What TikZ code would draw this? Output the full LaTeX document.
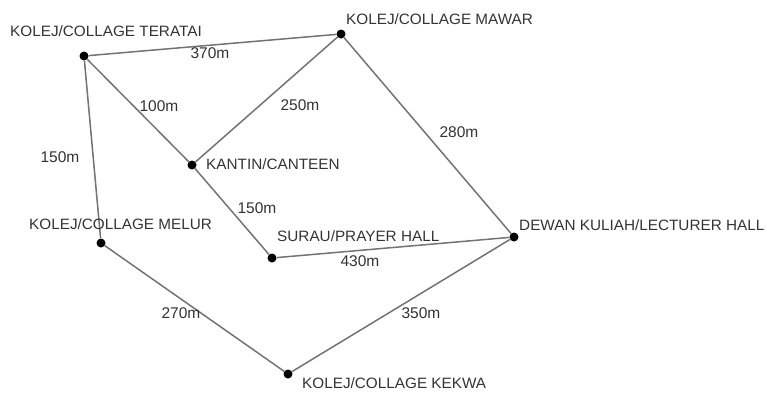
\documentclass[tikz,border=0pt]{standalone}
\usepackage{fontspec}
\setmainfont{Liberation Sans}
\newcommand\plabel[1]{\scalebox{1.02}[1]{#1}}
\begin{document}
\begin{tikzpicture}[x=1pt,y=-1pt,
  dot/.style={circle,fill=black,inner sep=0pt,minimum size=9pt},
  road/.style={draw=black!55,line width=1.5pt},
  place/.style={inner sep=0pt,anchor=west,text=black!80,font=\fontsize{15}{18}\selectfont},
  dist/.style={inner sep=0pt,text=black!80,font=\fontsize{15.5}{18}\selectfont}]
\useasboundingbox (0,0) rectangle (767,392);
% vertices
\node[dot] (teratai) at (84,56) {};
\node[dot] (mawar) at (341,34) {};
\node[dot] (kantin) at (192,165) {};
\node[dot] (melur) at (101,243) {};
\node[dot] (surau) at (272,258) {};
\node[dot] (dewan) at (514,237) {};
\node[dot] (kekwa) at (288,374) {};
% roads
\path[road] (teratai) -- (mawar);
\path[road] (teratai) -- (kantin);
\path[road] (teratai) -- (melur);
\path[road] (kantin) -- (mawar);
\path[road] (kantin) -- (surau);
\path[road] (mawar) -- (dewan);
\path[road] (surau) -- (dewan);
\path[road] (melur) -- (kekwa);
\path[road] (kekwa) -- (dewan);
% place names
\node[place] (lteratai) at (10,31) {\plabel{KOLEJ/COLLAGE TERATAI}};
\node[place] (lmawar) at (346,19) {\plabel{KOLEJ/COLLAGE MAWAR}};
\node[place] (lkantin) at (206,164) {\plabel{KANTIN/CANTEEN}};
\node[place] (lmelur) at (29,224) {\plabel{KOLEJ/COLLAGE MELUR}};
\node[place] (lsurau) at (277,236) {\plabel{SURAU/PRAYER HALL}};
\node[place] (ldewan) at (519,225) {\plabel{DEWAN KULIAH/LECTURER HALL}};
\node[place] (lkekwa) at (302,383) {\plabel{KOLEJ/COLLAGE KEKWA}};
% distances
\node[dist] (d1) at (210,53) {370m};
\node[dist] (d2) at (159,106) {100m};
\node[dist] (d3) at (300,105) {250m};
\node[dist] (d4) at (459,132) {280m};
\node[dist] (d5) at (60,157) {150m};
\node[dist] (d6) at (257,208) {150m};
\node[dist] (d7) at (360,261) {430m};
\node[dist] (d8) at (181,313) {270m};
\node[dist] (d9) at (421,313) {350m};
\end{tikzpicture}
\end{document}
